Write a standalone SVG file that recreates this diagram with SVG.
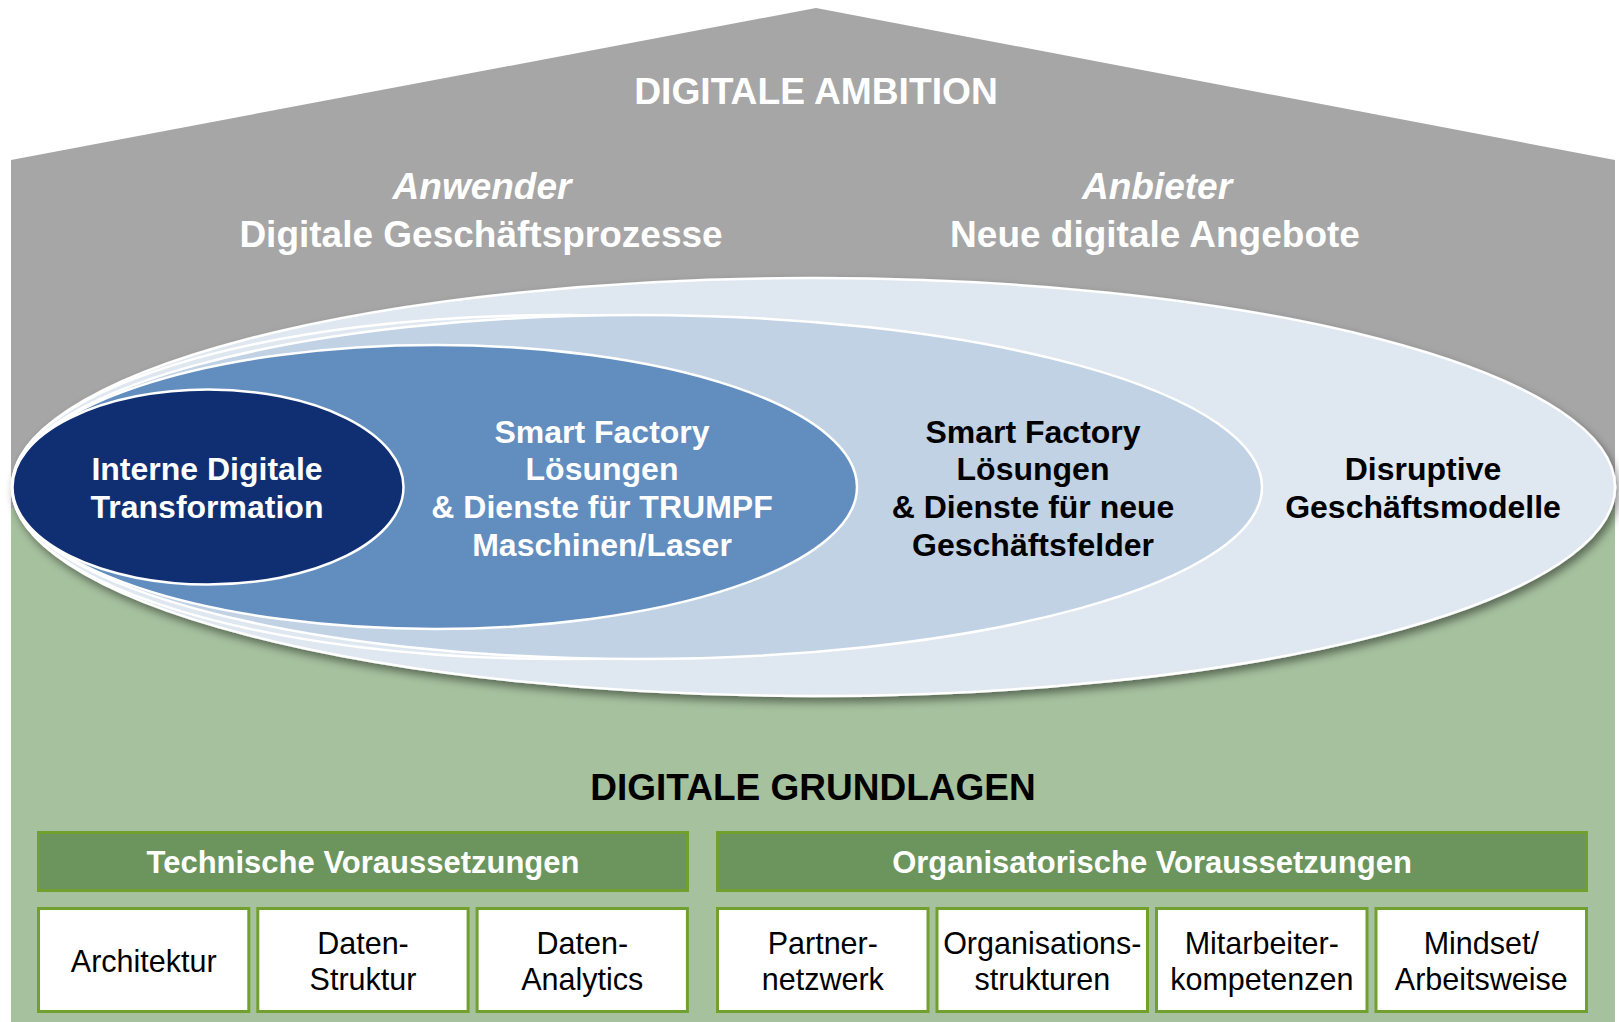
<svg xmlns="http://www.w3.org/2000/svg" width="1619" height="1022" viewBox="0 0 1619 1022">
  <style>
    .t { font-family: "Liberation Sans", Arial, sans-serif; text-anchor: middle; }
    .b { font-weight: bold; }
    .w { fill: #ffffff; }
    .k { fill: #000000; }
    .ell { stroke: #ffffff; stroke-width: 2.5; }
    .hdr { fill: #6B955C; stroke: #72A02F; stroke-width: 3; }
    .box { fill: #ffffff; stroke: #72A02F; stroke-width: 3; }
    .et { font-size: 32px; }
    .bt { font-size: 30.5px; }
  </style>
  <defs>
    <filter id="shadow" x="-5%" y="-10%" width="110%" height="125%">
      <feDropShadow dx="3" dy="5" stdDeviation="4" flood-color="#000000" flood-opacity="0.45"/>
    </filter>
  </defs>

  <!-- house body: roof part and foundation part -->
  <g id="house">
    <polygon points="11,160 816,8 1615,160 1615,508 11,508" fill="#A6A6A6"/>
    <rect x="11" y="508" width="1604" height="514" fill="#A6C19E"/>
  </g>

  <!-- roof headings -->
  <g id="ambition">
    <text class="t b w" x="816" y="104" font-size="37.2">DIGITALE AMBITION</text>
  </g>
  <g id="anwender">
    <text class="t b w" x="482" y="199" font-size="37" font-style="italic">Anwender</text>
    <text class="t b w" x="481" y="247" font-size="37">Digitale Geschäftsprozesse</text>
  </g>
  <g id="anbieter">
    <text class="t b w" x="1157" y="199" font-size="37" font-style="italic">Anbieter</text>
    <text class="t b w" x="1155" y="247" font-size="37">Neue digitale Angebote</text>
  </g>

  <!-- nested ellipses -->
  <g id="disruptive">
    <ellipse class="ell" cx="813.5" cy="487" rx="801.5" ry="209" fill="#DFE7F0" filter="url(#shadow)"/>
    <text class="t b k et" x="1423" y="480">Disruptive</text>
    <text class="t b k et" x="1423" y="518">Geschäftsmodelle</text>
  </g>
  <g id="ring-edge">
    <ellipse class="ell" cx="560" cy="487" rx="548" ry="172" fill="#DFE7F0"/>
  </g>
  <g id="neue-geschaeftsfelder">
    <ellipse class="ell" cx="637" cy="487" rx="625" ry="172" fill="#C0D2E4"/>
    <text class="t b k et" x="1033" y="443">Smart Factory</text>
    <text class="t b k et" x="1033" y="480">Lösungen</text>
    <text class="t b k et" x="1033" y="518">&amp; Dienste für neue</text>
    <text class="t b k et" x="1033" y="556">Geschäftsfelder</text>
  </g>
  <g id="trumpf-maschinen">
    <ellipse class="ell" cx="435.5" cy="487" rx="421.5" ry="142" fill="#628DBF"/>
    <text class="t b w et" x="602" y="443">Smart Factory</text>
    <text class="t b w et" x="602" y="480">Lösungen</text>
    <text class="t b w et" x="602" y="518">&amp; Dienste für TRUMPF</text>
    <text class="t b w et" x="602" y="556">Maschinen/Laser</text>
  </g>
  <g id="interne-transformation">
    <ellipse class="ell" cx="208" cy="487" rx="195.5" ry="97.5" fill="#0F2F72"/>
    <text class="t b w et" x="207" y="480">Interne Digitale</text>
    <text class="t b w et" x="207" y="518">Transformation</text>
  </g>

  <!-- foundation -->
  <g id="grundlagen">
    <text class="t b k" x="813" y="800" font-size="37">DIGITALE GRUNDLAGEN</text>
  </g>

  <g id="technische">
    <rect class="hdr" x="38.5" y="832.5" width="649" height="58"/>
    <text class="t b w" x="363" y="873" font-size="31">Technische Voraussetzungen</text>
  </g>
  <g id="organisatorische">
    <rect class="hdr" x="717.5" y="832.5" width="869" height="58"/>
    <text class="t b w" x="1152" y="873" font-size="31">Organisatorische Voraussetzungen</text>
  </g>

  <g id="architektur">
    <rect class="box" x="38.5" y="908.5" width="210.3" height="103"/>
    <text class="t k bt" x="143.7" y="972">Architektur</text>
  </g>
  <g id="daten-struktur">
    <rect class="box" x="257.8" y="908.5" width="210.3" height="103"/>
    <text class="t k bt" x="363" y="954">Daten-</text>
    <text class="t k bt" x="363" y="990">Struktur</text>
  </g>
  <g id="daten-analytics">
    <rect class="box" x="477.1" y="908.5" width="210.3" height="103"/>
    <text class="t k bt" x="582.3" y="954">Daten-</text>
    <text class="t k bt" x="582.3" y="990">Analytics</text>
  </g>
  <g id="partnernetzwerk">
    <rect class="box" x="717.5" y="908.5" width="210.5" height="103"/>
    <text class="t k bt" x="822.8" y="954">Partner-</text>
    <text class="t k bt" x="822.8" y="990">netzwerk</text>
  </g>
  <g id="organisationsstrukturen">
    <rect class="box" x="937" y="908.5" width="210.5" height="103"/>
    <text class="t k bt" x="1042.3" y="954">Organisations-</text>
    <text class="t k bt" x="1042.3" y="990">strukturen</text>
  </g>
  <g id="mitarbeiterkompetenzen">
    <rect class="box" x="1156.5" y="908.5" width="210.5" height="103"/>
    <text class="t k bt" x="1261.8" y="954">Mitarbeiter-</text>
    <text class="t k bt" x="1261.8" y="990">kompetenzen</text>
  </g>
  <g id="mindset">
    <rect class="box" x="1376" y="908.5" width="210.5" height="103"/>
    <text class="t k bt" x="1481.3" y="954">Mindset/</text>
    <text class="t k bt" x="1481.3" y="990">Arbeitsweise</text>
  </g>

  <!-- no connectors in this diagram -->
  <g id="connectors"/>
</svg>
